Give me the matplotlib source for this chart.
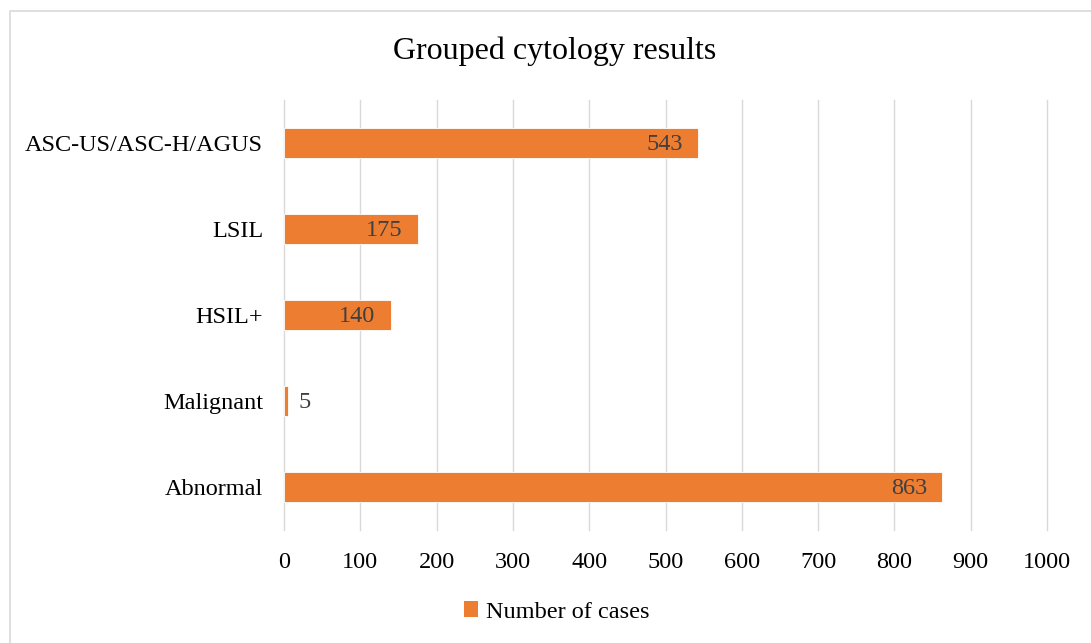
import matplotlib.pyplot as plt
from matplotlib.lines import Line2D
from matplotlib.patches import Patch

categories = ['Abnormal', 'Malignant', 'HSIL+', 'LSIL', 'ASC-US/ASC-H/AGUS']
cases = [863, 5, 140, 175, 543]
xticks = [0, 100, 200, 300, 400, 500, 600, 700, 800, 900, 1000]

orange = '#ED7D31'
plt.rcParams['font.family'] = ['Liberation Serif', 'DejaVu Serif']

fig = plt.figure(figsize=(10.91, 6.43), dpi=100)
ax = fig.add_axes([0.2603, 0.1757, 0.6994, 0.6688])

pos = range(len(categories))
bars = ax.barh(pos, cases, height=0.35, color=orange, edgecolor='white', linewidth=0.6, zorder=3)

ax.set_xlim(0, 1000)
ax.set_ylim(-0.5, len(categories) - 0.5)
ax.set_xticks(xticks)
ax.set_xticklabels([str(t) for t in xticks], fontsize=17.5)
ax.set_yticks(list(pos))
ax.set_yticklabels(categories, fontsize=17.5)
ax.tick_params(axis='both', length=0)
ax.tick_params(axis='y', pad=15)
ax.tick_params(axis='x', pad=16)
ax.grid(axis='x', color='#d9d9d9', linewidth=1, zorder=0)
for gl in ax.get_xgridlines():
    gl.set_clip_on(False)
for s in ax.spines.values():
    s.set_visible(False)

# data labels: inside end, small ones outside
for b, v in zip(bars, cases):
    y = b.get_y() + b.get_height() / 2
    if v > 50:
        ax.annotate(str(v), (v, y), xytext=(-11, -1), textcoords='offset points',
                    ha='right', va='center', fontsize=17.5, color='#404040')
    else:
        ax.annotate(str(v), (v, y), xytext=(8, -1), textcoords='offset points',
                    ha='left', va='center', fontsize=17.5, color='#404040')

fig.text(0.508, 0.92, 'Grouped cytology results', ha='center', va='center', fontsize=23)

handle = Patch(facecolor=orange, edgecolor='none')
fig.legend([handle], ['Number of cases'], loc='center', bbox_to_anchor=(0.51, 0.048),
           frameon=False, fontsize=17.5, handlelength=0.6, handleheight=0.6, handletextpad=0.3)

# chart area border (left and top edges visible)
fig.add_artist(Line2D([10 / 1091, 10 / 1091, 1.0], [0.0, 1 - 11 / 643, 1 - 11 / 643],
                      transform=fig.transFigure, color='#d9d9d9', linewidth=1.2))

fig.savefig('out.png', dpi=100)
